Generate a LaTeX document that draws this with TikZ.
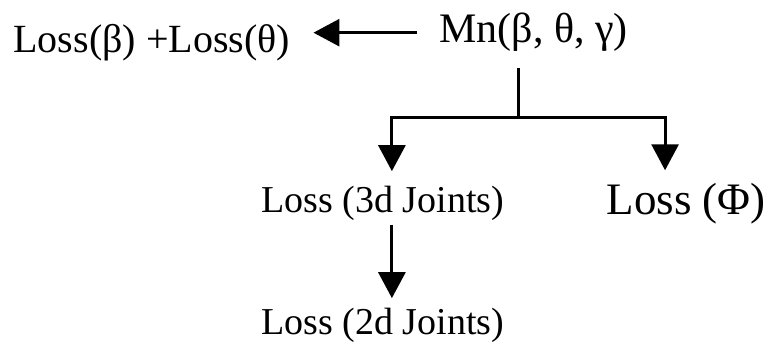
\documentclass[tikz,border=0pt]{standalone}
\usepackage{fontspec}
\setmainfont{Liberation Serif}
\usetikzlibrary{arrows.meta}
\begin{document}
\begin{tikzpicture}[x=1pt, y=-1pt, line width=3pt,
    >={Triangle[length=26pt,width=27pt]},
    txt/.style={inner sep=0pt, anchor=base west, font=\fontsize{38}{40}\selectfont}]
    \useasboundingbox (0,0) rectangle (774,347);
    \node (lossbt) [txt, font=\fontsize{40}{42}\selectfont] at (12,53) {Loss(β) +Loss(θ)};
    \node (mn) [txt, font=\fontsize{42}{44}\selectfont] at (438,43) {Mn(β, θ, γ)};
    \node (loss3d) [txt] at (260,213) {Loss (3d Joints)};
    \node (lossphi) [txt, font=\fontsize{45}{47}\selectfont] at (605,215) {Loss (Φ)};
    \node (loss2d) [txt] at (260,335) {Loss (2d Joints)};
    \coordinate (fork) at (518,118);

    \draw[->] ([xshift=-21pt]mn.west) -- ([xshift=22pt]lossbt.east |- mn.west);
    \draw (mn.south -| fork) ++(0,15) -- (fork);
    \draw[->] (fork) -| ([xshift=9pt,yshift=14pt]loss3d.north);
    \draw[->] (fork) -| ([xshift=-21pt,yshift=12pt]lossphi.north);
    \draw[->] ([xshift=9pt,yshift=-2pt]loss3d.south) -- ([xshift=9pt,yshift=9pt]loss2d.north);
\end{tikzpicture}
\end{document}
